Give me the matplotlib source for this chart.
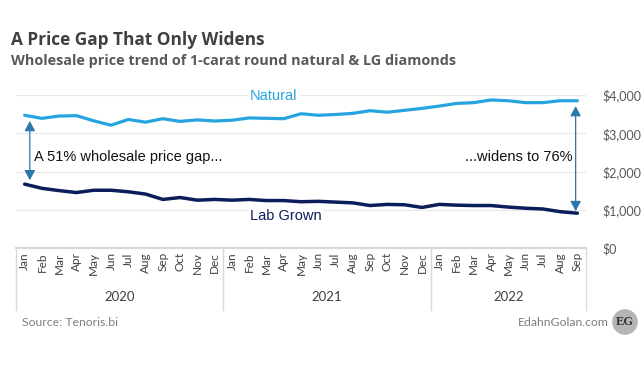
"""Natural vs lab-grown diamond wholesale price trend, 2020-2022."""

import numpy as np
import matplotlib
matplotlib.use("Agg")
import matplotlib.pyplot as plt
from matplotlib.transforms import blended_transform_factory

# data (USD per 1-carat round, monthly Jan 2020 - Sep 2022)
months = ["Jan", "Feb", "Mar", "Apr", "May", "Jun",
          "Jul", "Aug", "Sep", "Oct", "Nov", "Dec"] * 2 + \
         ["Jan", "Feb", "Mar", "Apr", "May", "Jun", "Jul", "Aug", "Sep"]
years = ["2020", "2021", "2022"]
months_per_year = [12, 12, 9]
natural = [3470, 3390, 3450, 3460, 3325, 3210, 3360, 3290, 3380, 3310, 3350, 3320,
           3340, 3400, 3390, 3380, 3510, 3470, 3490, 3520, 3590, 3550, 3600, 3650,
           3710, 3780, 3800, 3870, 3850, 3800, 3800, 3850, 3850]
lab_grown = [1670, 1560, 1500, 1450, 1510, 1510, 1470, 1410, 1270, 1320, 1250, 1270,
             1250, 1270, 1240, 1240, 1210, 1220, 1200, 1180, 1110, 1140, 1130, 1060,
             1140, 1120, 1110, 1110, 1070, 1040, 1020, 950, 910]
y_ticks = [0, 1000, 2000, 3000, 4000]

NAT_COLOR = "#26A4E0"
LAB_COLOR = "#0B1E5B"
GRID = "#E9E9E9"
AXIS_GRAY = "#D9D9D9"
ARROW_COLOR = "#2A78AC"

W, H = 643, 367
fig = plt.figure(figsize=(W / 100, H / 100), dpi=100)
ax = fig.add_axes([16 / W, 1 - 248 / H, 570 / W, 153 / H])

x = np.arange(len(natural))
ax.plot(x, natural, color=NAT_COLOR, lw=2.3, solid_capstyle="round", zorder=3)
ax.plot(x, lab_grown, color=LAB_COLOR, lw=2.5, solid_capstyle="round", zorder=3)

ax.set_xlim(-0.5, len(natural) - 0.5)
ax.set_ylim(0, 4000)
ax.set_yticks(y_ticks)
ax.set_yticklabels([f"${v:,.0f}" for v in y_ticks])
ax.yaxis.tick_right()
ax.tick_params(axis="y", length=0, pad=12, labelsize=9, labelcolor="#595959")
for lab in ax.get_yticklabels():
    lab.set_fontfamily("Lato")
ax.grid(axis="y", color=GRID, lw=0.9, zorder=0)
for side in ["top", "left", "right"]:
    ax.spines[side].set_visible(False)
ax.spines["bottom"].set_color(AXIS_GRAY)
ax.spines["bottom"].set_linewidth(1.6)

# month / year category axis
ax.set_xticks(x)
ax.set_xticklabels(months, rotation=90, fontsize=8.5, color="#404040",
                   family="Lato")
ax.tick_params(axis="x", length=0, pad=3)
trans = blended_transform_factory(ax.transData, ax.transAxes)
edges = np.concatenate([[0], np.cumsum(months_per_year)]) - 0.5
for e in edges:
    ax.plot([e, e], [0, -0.405], transform=trans, color=AXIS_GRAY, lw=1.0,
            clip_on=False)
for yr, a, b in zip(years, edges[:-1], edges[1:]):
    ax.text((a + b) / 2, -0.32, yr, transform=trans, ha="center", va="center",
            fontsize=9.5, color="#404040", family="Lato")

# series labels
ax.text(14.4, 3970, "Natural", ha="center", va="center", fontsize=10.5,
        color=NAT_COLOR, family="Liberation Sans",
        bbox=dict(fc="white", ec="none", pad=1.5), zorder=2)
ax.text(15.1, 830, "Lab Grown", ha="center", va="center", fontsize=10.5,
        color=LAB_COLOR, family="Liberation Sans",
        bbox=dict(fc="white", ec="none", pad=1.5), zorder=2)

# gap arrows
arrow_kw = dict(arrowstyle="<|-|>,head_length=0.6,head_width=0.32",
                color=ARROW_COLOR, lw=0.9, shrinkA=0, shrinkB=0)
ax.annotate("", xy=(0.3, natural[0] - 150), xytext=(0.3, lab_grown[0] + 100),
            arrowprops=arrow_kw)
ax.annotate("", xy=(31.9, natural[-1] - 140), xytext=(31.9, lab_grown[-1] + 55),
            arrowprops=arrow_kw)
ax.text(0.55, 2380, "A 51% wholesale price gap...", ha="left", va="center",
        fontsize=10.5, color="#111111", family="Liberation Sans")
ax.text(31.7, 2380, "...widens to 76%", ha="right", va="center",
        fontsize=10.5, color="#111111", family="Liberation Sans")

# titles and footer
fig.text(11 / W, 1 - 40 / H, "A Price Gap That Only Widens", fontsize=12.4,
         fontweight="bold", color="#404040", family="Open Sans", va="center")
fig.text(11 / W, 1 - 61 / H,
         "Wholesale price trend of 1-carat round natural & LG diamonds",
         fontsize=10.4, fontweight="bold", color="#595959", family="Open Sans",
         va="center")
fig.text(22 / W, 1 - 323 / H, "Source: Tenoris.bi", fontsize=8.8,
         color="#7F7F7F", family="Lato", va="center")
fig.text(609 / W, 1 - 323 / H, "EdahnGolan.com", fontsize=8.8,
         color="#7F7F7F", family="Lato", va="center", ha="right")
fig.text(625 / W, 1 - 322 / H, "EG", fontsize=9, fontweight="bold",
         family="Liberation Serif", color="#333333", ha="center", va="center",
         bbox=dict(boxstyle="circle,pad=0.3", fc="#B5B5B5", ec="none"))

fig.savefig("out.png", dpi=100, facecolor="white")
